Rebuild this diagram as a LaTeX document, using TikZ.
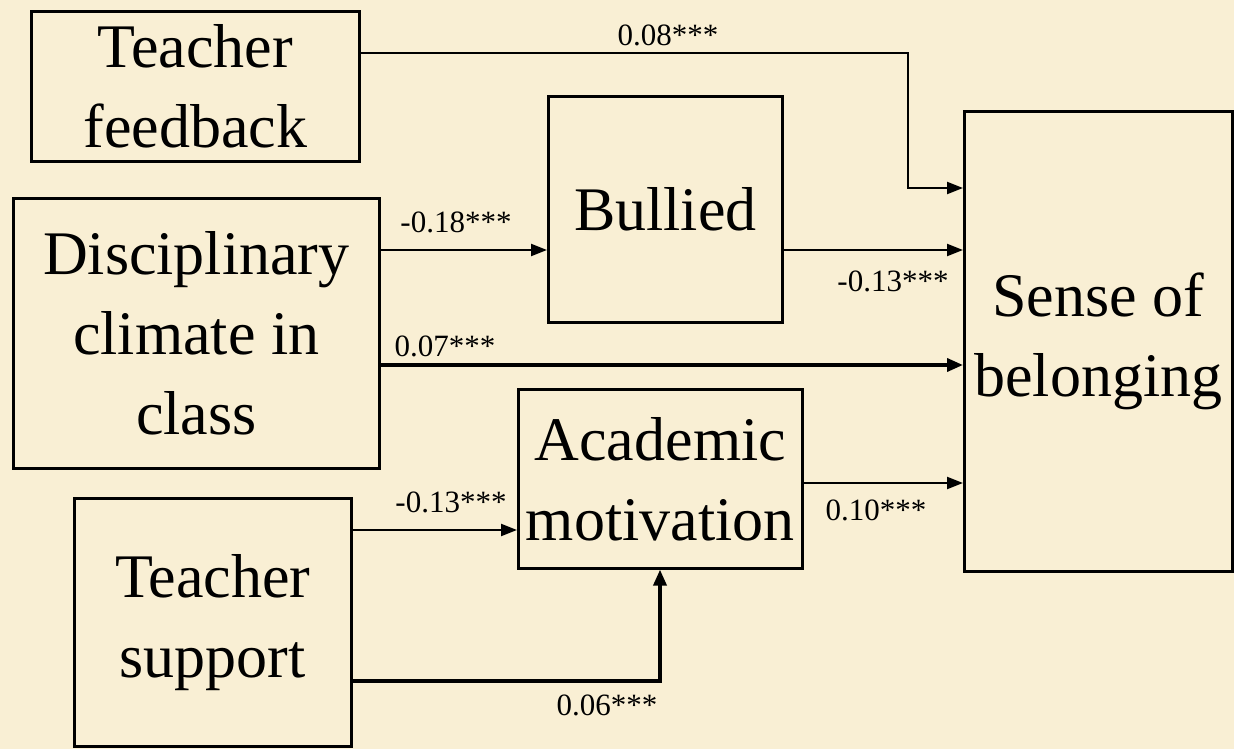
\documentclass[tikz,border=0pt]{standalone}
\usepackage{fontspec}
\setmainfont{Liberation Serif}
\usetikzlibrary{arrows.meta}
\definecolor{parch}{RGB}{249,239,212}
\begin{document}
\begin{tikzpicture}[x=1pt,y=-1pt,
  box/.style={draw=black,line width=2.6pt,inner sep=0pt,anchor=north west,align=center,
    font=\fontsize{62}{80}\selectfont},
  arr/.style={line width=2.2pt,-{Triangle[length=16pt,width=12pt]}},
  thk/.style={line width=3.6pt,-{Triangle[length=16pt,width=13pt]}},
  lab/.style={font=\fontsize{31}{33}\selectfont,inner sep=0pt}]
\useasboundingbox (0,0) rectangle (1234,749);
\fill[parch] (0,0) rectangle (1234,749);
\node[box,minimum width=328,minimum height=150] (tf) at (30,10) {Teacher\\feedback};
\node[box,minimum width=366,minimum height=270] (dc) at (12,197) {Disciplinary\\climate in\\class};
\node[box,minimum width=234,minimum height=226] (bu) at (547,95) {Bullied};
\node[box,minimum width=284,minimum height=179] (am) at (517,388) {Academic\\motivation};
\node[box,minimum width=277,minimum height=248] (ts) at (73,497) {Teacher\\support};
\node[box,minimum width=268,minimum height=460] (sb) at (963,110) {Sense of\\belonging};
% connectors
\draw[arr] (tf.east |- 0,53) -| (908,188) -- (sb.west |- 0,188);
\draw[arr] (dc.east |- 0,250) -- (bu.west |- 0,250);
\draw[arr] (bu.east |- 0,250) -- (sb.west |- 0,250);
\draw[thk] (dc.east |- 0,365) -- (sb.west |- 0,365);
\draw[arr] (am.east |- 0,483) -- (sb.west |- 0,483);
\draw[arr] (ts.east |- 0,530) -- (am.west |- 0,530);
\draw[thk] (ts.east |- 0,681) -| (am.south -| 660,0);
% labels
\node[lab] (l1) at (668,35) {0.08***};
\node[lab] (l2) at (456,222) {-0.18***};
\node[lab] (l3) at (893,281) {-0.13***};
\node[lab] (l4) at (445,346) {0.07***};
\node[lab] (l5) at (876,510) {0.10***};
\node[lab] (l6) at (451,502) {-0.13***};
\node[lab] (l7) at (607,705) {0.06***};
\end{tikzpicture}
\end{document}
